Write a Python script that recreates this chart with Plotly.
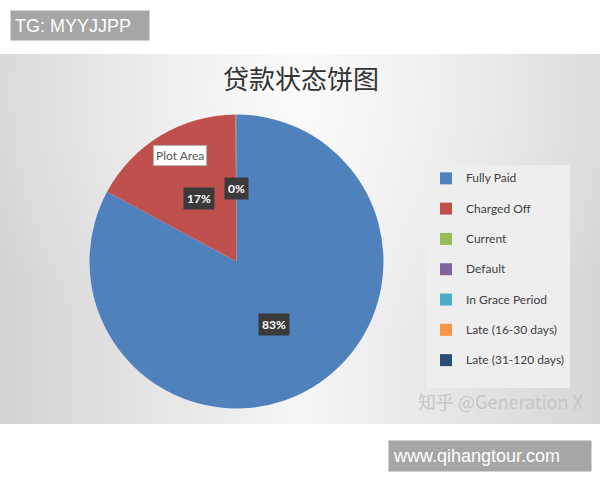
import base64
import math
import plotly.graph_objects as go

# ---- data ----
categories = ["Fully Paid", "Charged Off", "Current", "Default",
              "In Grace Period", "Late (16-30 days)", "Late (31-120 days)"]
shares = [82.87, 17.03, 0.02, 0.01, 0.02, 0.01, 0.04]
colors = ["#4F81BD", "#C0504D", "#9BBB59", "#8064A2",
          "#4BACC6", "#F79646", "#2C4D75"]
labelled = ["Fully Paid", "Charged Off", "Late (31-120 days)"]
title_text = "贷款状态饼图"

W, H = 600, 480
# pie geometry (pixels)
PCX, PCY, PR = 236.5, 218.5, 147.0   # centre (from bottom) and radius
dom_x = [(PCX - PR) / W, (PCX + PR) / W]
dom_y = [(PCY - PR) / H, (PCY + PR) / H]

# background gradient of the chart area
svg = ('<svg xmlns="http://www.w3.org/2000/svg" width="600" height="370" '
       'preserveAspectRatio="none">'
       '<defs><linearGradient id="g" x1="0" y1="0" x2="1" y2="0">'
       '<stop offset="0" stop-color="#d3d3d3"/>'
       '<stop offset="0.5" stop-color="#f6f6f6"/>'
       '<stop offset="1" stop-color="#d6d6d6"/>'
       '</linearGradient>'
       '<radialGradient id="r" cx="0.5" cy="0.1" r="0.7">'
       '<stop offset="0" stop-color="#ffffff" stop-opacity="0.5"/>'
       '<stop offset="1" stop-color="#ffffff" stop-opacity="0"/>'
       '</radialGradient></defs>'
       '<rect width="600" height="370" fill="url(#g)"/>'
       '<rect width="600" height="370" fill="url(#r)"/></svg>')
svg_uri = "data:image/svg+xml;base64," + base64.b64encode(svg.encode()).decode()

# legend entries: larger visible text, blank second line for Excel-like spacing
legend_labels = ["<span style='font-size:12px'>%s</span><br> " % c for c in categories]

fig = go.Figure(go.Pie(
    labels=legend_labels,
    values=shares,
    marker=dict(colors=colors, line=dict(width=0)),
    sort=False,
    direction="clockwise",
    rotation=0,
    textinfo="none",
    hoverinfo="percent",
    domain=dict(x=dom_x, y=dom_y),
))

# data labels, positioned from the slice values
total = sum(shares)
annotations = []
cum = 0.0
for cat, v in zip(categories, shares):
    start = cum
    cum += v
    if cat not in labelled:
        continue
    mid = (start + v / 2) / total * 2 * math.pi
    rr = 0.5 * PR
    ax = (PCX + rr * math.sin(mid)) / W
    ay = (PCY + rr * math.cos(mid)) / H
    annotations.append(dict(
        x=ax, y=ay, xref="paper", yref="paper", showarrow=False,
        xanchor="center", yanchor="middle",
        text="<b>%d%%</b>" % round(v / total * 100),
        font=dict(family="Lato, Liberation Sans", size=12, color="white"),
        bgcolor="#3a3a3a", borderpad=3,
    ))

# Excel "Plot Area" tooltip
annotations.append(dict(
    x=180 / W, y=1 - 156 / H, xref="paper", yref="paper", showarrow=False,
    xanchor="center", yanchor="middle",
    text="Plot Area", font=dict(family="Lato", size=12, color="#555555"),
    bgcolor="white", bordercolor="#b0b0b0", borderwidth=1, borderpad=2,
))
# watermark
annotations.append(dict(
    x=500 / W, y=1 - 401 / H, xref="paper", yref="paper", showarrow=False,
    xanchor="center", yanchor="middle",
    text="知乎 @Generation X",
    font=dict(family="Noto Sans CJK SC", size=18, color="#c6c6c6"),
))
# top-left tag box
annotations.append(dict(
    x=10 / W, y=1 - 10 / H, xref="paper", yref="paper", showarrow=False,
    xanchor="left", yanchor="top", align="left", valign="middle",
    width=130, height=21, borderpad=4, bgcolor="#a6a6a6",
    text="TG: MYYJJPP",
    font=dict(family="Liberation Sans, Arial", size=18, color="white"),
))
# bottom-right url box
annotations.append(dict(
    x=388 / W, y=1 - 440 / H, xref="paper", yref="paper", showarrow=False,
    xanchor="left", yanchor="top", align="left", valign="middle",
    width=194, height=22, borderpad=4, bgcolor="#a6a6a6",
    text="www.qihangtour.com",
    font=dict(family="Liberation Sans, Arial", size=18, color="white"),
))

fig.update_layout(
    width=W, height=H, autosize=False,
    margin=dict(l=0, r=0, t=0, b=0),
    paper_bgcolor="white",
    title=dict(text=title_text, x=301 / W, xanchor="center",
               y=1 - 80 / H, yanchor="middle", xref="paper", yref="paper",
               font=dict(family="Noto Sans CJK SC", size=26, color="#333333")),
    images=[dict(source=svg_uri, xref="paper", yref="paper",
                 x=0, y=1 - 54 / H, sizex=1, sizey=370 / H,
                 xanchor="left", yanchor="top", sizing="stretch",
                 layer="below")],
    legend=dict(x=426 / W, y=1 - 165 / H, xanchor="left", yanchor="top",
                bgcolor="#eeeeee", valign="top",
                font=dict(family="Lato", size=10.5, color="#404040")),
    annotations=annotations,
    showlegend=True,
)

fig.write_html("out.html", config={"displayModeBar": False},
               post_script="document.body.style.margin='0';")
